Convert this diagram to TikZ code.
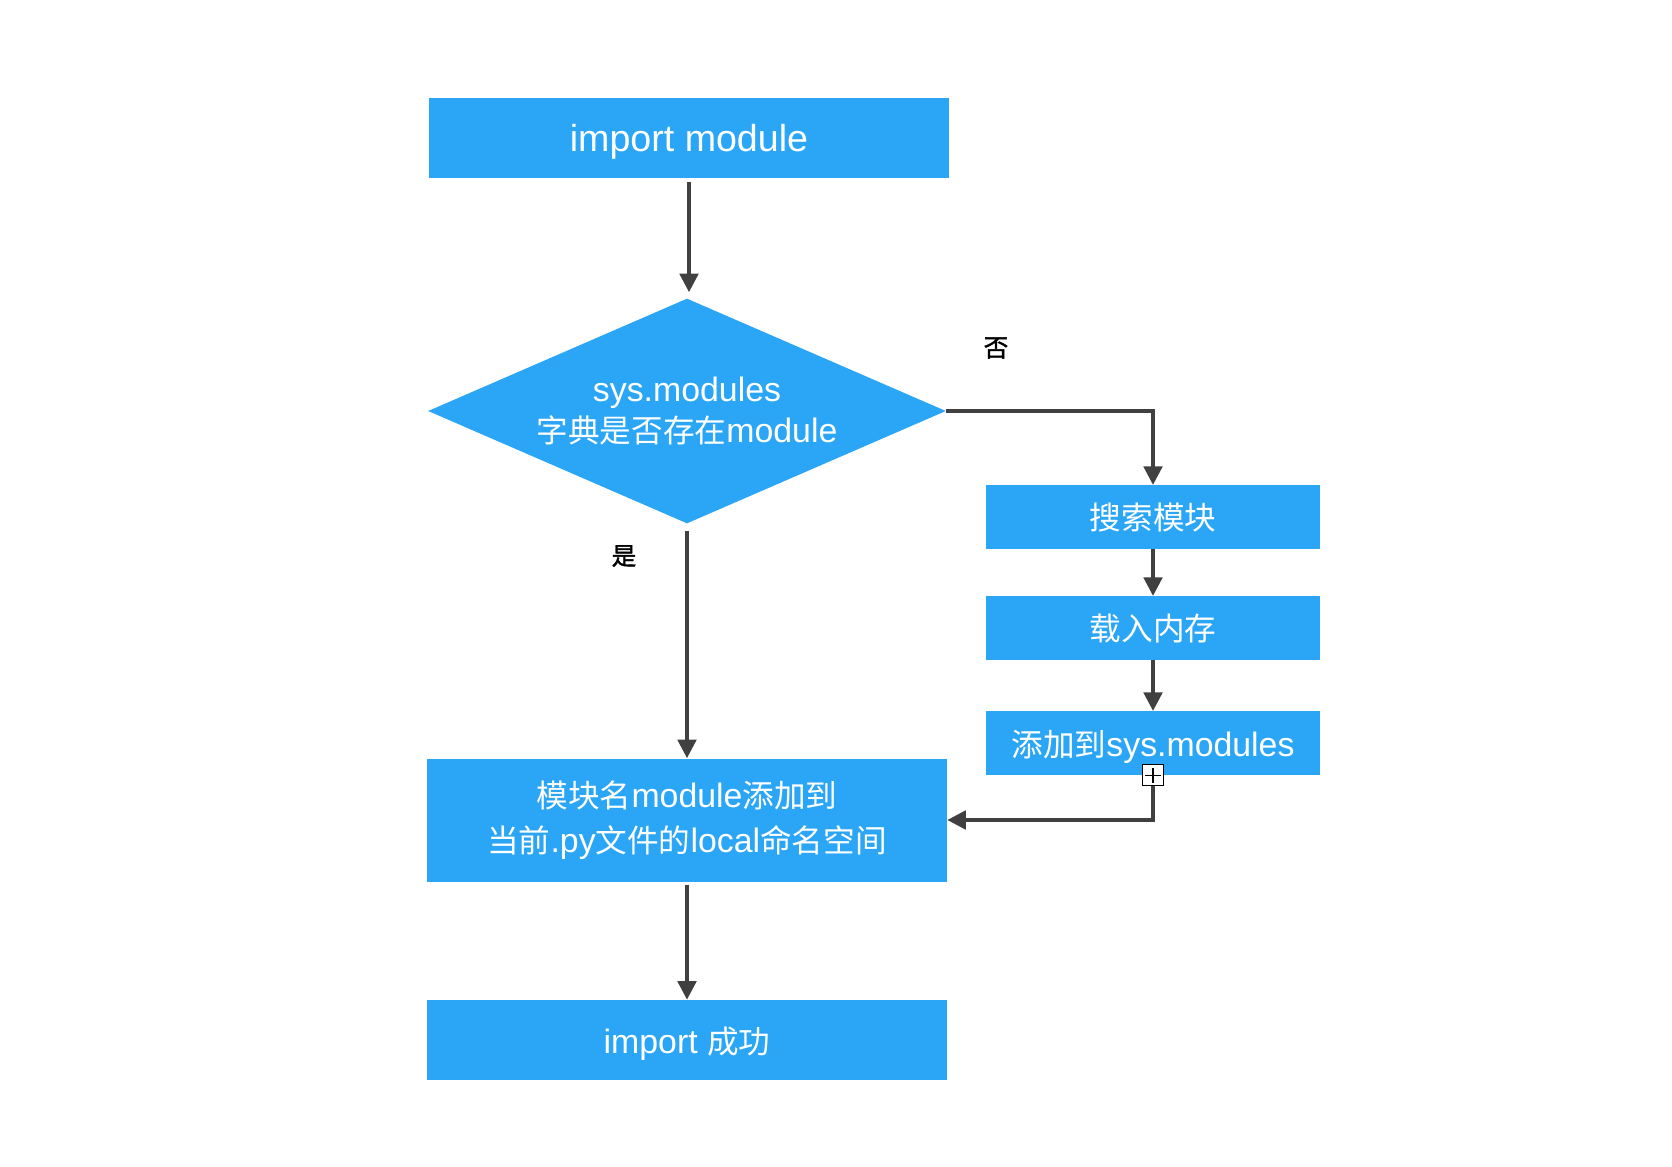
\documentclass[tikz,border=0pt]{standalone}
\usepackage{fontspec}
\setmainfont[Scale=1.07]{Liberation Sans}
\newfontfamily\cjk{Noto Sans CJK SC}
\newfontfamily\cjkbold[FakeBold=1.5]{Noto Sans CJK SC}
\newcommand\zh[1]{{\cjk #1}}
\usetikzlibrary{arrows.meta,shapes.geometric}
\definecolor{boxblue}{RGB}{43,166,247}
\definecolor{linegray}{RGB}{64,64,64}

\begin{document}
\begin{tikzpicture}[x=0.02cm,y=-0.02cm,
  box/.style={fill=boxblue,text=white,minimum width=10.4cm,inner sep=0pt,align=center,font=\fontsize{18}{25.5}\selectfont},
  smallbox/.style={box,minimum width=6.68cm,minimum height=1.27cm},
  flow/.style={draw=linegray,line width=2pt,-{Triangle[length=0.37cm,width=0.37cm]}},
  yesno/.style={font=\cjkbold\fontsize{14}{14}\selectfont}]
\useasboundingbox (0,0) rectangle (1672,1166);
% main column
\node[box,minimum height=1.6cm,text depth=0pt,font=\fontsize{20}{24}\selectfont] (start) at (689,138) {import module};
\node[diamond,aspect=2.3,fill=boxblue,text=white,inner sep=0pt,minimum width=10.36cm,minimum height=4.5cm,
  align=center,font=\fontsize{18}{23}\selectfont] (check) at (687,411) {sys.modules\\\zh{字典是否存在}module};
\node[box,minimum height=2.46cm] (local) at (687,820) {\zh{模块名}module\zh{添加到}\\\zh{当前}.py\zh{文件的}local\zh{命名空间}};
\node[box,minimum height=1.6cm,text depth=0pt] (done) at (687,1040) {import \zh{成功}};
% right column
\node[smallbox] (search) at (1153,517) {\zh{搜索模块}};
\node[smallbox] (load) at (1153,628) {\zh{载入内存}};
\node[smallbox,text depth=0pt] (add) at (1153,743) {\zh{添加到}sys.modules};
% collapse marker under the last box
\node[draw,fill=white,line width=0.6pt,minimum size=0.42cm,inner sep=0pt] (fold) at (add.south) {};
\draw[line width=0.6pt] ([xshift=0.07cm]fold.west) -- ([xshift=-0.07cm]fold.east);
\draw[line width=0.6pt] ([yshift=-0.07cm]fold.north) -- ([yshift=0.07cm]fold.south);
% branch labels
\node[yesno] (no) at (996,348) {否};
\node[yesno] (yes) at (624,556) {是};
% connectors
\draw[flow] ([yshift=-0.08cm]start.south) -- ([yshift=0.12cm]check.north -| start.south);
\draw[flow] ([yshift=-0.14cm]check.south) -- (local.north);
\draw[flow] (check.east) -| (search.north);
\draw[flow] (search.south) -- (load.north);
\draw[flow] (load.south) -- (add.north);
\draw[flow] (fold.south) |- (local.east);
\draw[flow] ([yshift=-0.06cm]local.south) -- (done.north);
\end{tikzpicture}
\end{document}
